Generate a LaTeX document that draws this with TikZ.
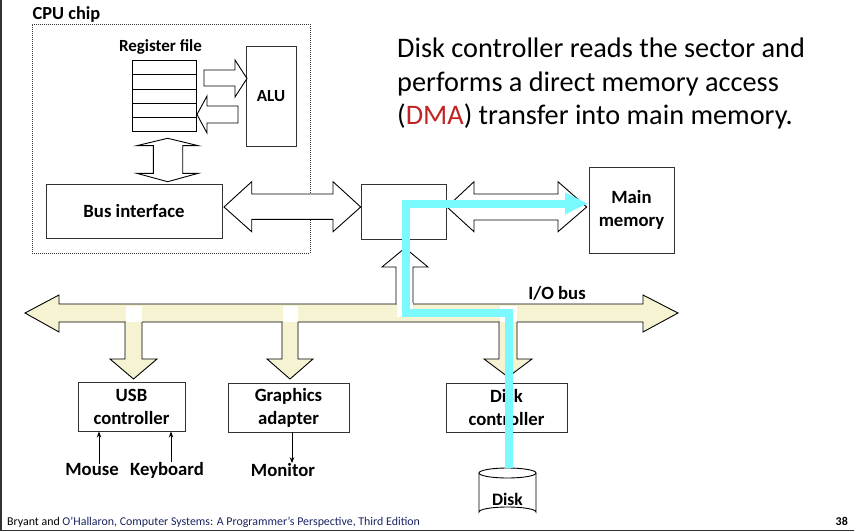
\documentclass[tikz,border=0pt]{standalone}
\usepackage{fontspec}
\setmainfont{Carlito}
\usetikzlibrary{arrows.meta}
\definecolor{cream}{RGB}{246,243,211}
\definecolor{cyanp}{RGB}{122,250,255}
\definecolor{dmared}{RGB}{192,36,36}
\definecolor{navyt}{RGB}{25,35,95}
\definecolor{edge}{RGB}{50,50,50}
\begin{document}
\begin{tikzpicture}[x=1pt,y=-1pt,
  box/.style={draw=edge, line width=0.9pt, inner sep=0pt, align=center,
    font=\bfseries\fontsize{18.7}{23}\selectfont},
  lbl/.style={inner sep=0pt, font=\bfseries\fontsize{18.7}{23}\selectfont},
  blk/.style={draw=black, line width=0.9pt, line join=miter, fill=white},
  bus/.style={draw=black, line width=0.9pt, line join=miter, fill=cream},
  thin/.style={draw=black, line width=0.9pt, -{Stealth[length=6pt,width=4.5pt]}},
  cyanline/.style={draw=cyanp, line width=8pt},
  title/.style={inner sep=0pt, anchor=base west, font=\fontsize{28.3}{33}\selectfont}]
\useasboundingbox (0,0) rectangle (854,532);
% slide frame
\draw[edge, line width=1.5pt] (0.8,0) -- (0.8,530.5) -- (854,530.5);

% CPU chip
\node[draw=edge, line width=0.8pt, dash pattern=on 1pt off 1pt, minimum width=278pt, minimum height=229pt, inner sep=0pt] (cpu) at (171,138.5) {};
\node[lbl, anchor=base west, font=\bfseries\fontsize{18.4}{22}\selectfont] (cpulbl) at (32.5,19.5) {CPU chip};
\node[lbl, font=\bfseries\fontsize{17}{22}\selectfont] (reglbl) at (160.5,47) {Register file};
\foreach \i in {0,...,4}{
  \node[draw=black, line width=0.9pt, minimum width=64pt, minimum height=14.2pt, inner sep=0pt] (reg\i) at (164,67.8+14.2*\i) {};
}
\node[box, minimum width=50pt, minimum height=100pt, font=\bfseries\fontsize{17}{22}\selectfont] (alu) at (271,96) {ALU};
% reg -> ALU
\draw[blk] (204,70) -- (235,70) -- (235,60) -- (247,78.5) -- (235,97) -- (235,86) -- (204,86) -- cycle;
% ALU -> reg
\draw[blk] (238,106) -- (207,106) -- (207,96) -- (197,114.5) -- (207,133) -- (207,123) -- (238,123) -- cycle;
% reg <-> bus interface
\draw[blk] (167.7,138.3) -- (198.3,145.7) -- (182.7,145.7) -- (182.7,173.3) -- (198.3,173.3) -- (167.7,181.7)
  -- (136.7,173.3) -- (153.3,173.3) -- (153.3,145.7) -- (136.7,145.7) -- cycle;
\node[box, minimum width=176pt, minimum height=54pt] (busif) at (134,211) {Bus interface};

% bridge and memory
\node[box, minimum width=85pt, minimum height=55pt] (bridge) at (403.5,211.5) {};
\node[box, minimum width=85pt, minimum height=86pt] (mem) at (631.5,210) {Main\\memory};
% bus interface <-> bridge
\draw[blk] (224,207) -- (251.7,181.7) -- (251.7,194) -- (333,194) -- (333,181.7) -- (360.7,207)
  -- (333,231.7) -- (333,219.3) -- (251.7,219.3) -- (251.7,231.7) -- cycle;
% bridge <-> memory
\draw[blk] (447,207) -- (474,181.7) -- (474,194) -- (558,194) -- (558,181.7) -- (586.7,207)
  -- (558,231.7) -- (558,220) -- (474,220) -- (474,231.7) -- cycle;

% I/O bus
\draw[bus] (25,313) -- (59,295) -- (59,304) -- (643,304) -- (643,295) -- (678,313) -- (643,332)
  -- (643,322) -- (59,322) -- (59,332) -- cycle;
\node[lbl] (iolbl) at (557,293) {I/O bus};

% up arrow bus -> bridge
\draw[blk] (396,304) -- (396,267) -- (382,267) -- (405,248) -- (428,267) -- (413,267) -- (413,304);
\fill[white] (396.5,303) rectangle (412.5,317);

% down arrows
\fill[cream] (125,322) -- (125,359) -- (110,359) -- (133.5,379) -- (157,359) -- (142,359) -- (142,322) -- cycle;
\draw[black, line width=0.9pt, line join=miter] (125,322) -- (125,359) -- (110,359) -- (133.5,379) -- (157,359) -- (142,359) -- (142,322);
\fill[white] (125.5,306) rectangle (141.5,321.5);

\fill[cream] (282,322) -- (282,359) -- (267,359) -- (290,379) -- (313,359) -- (298,359) -- (298,322) -- cycle;
\draw[black, line width=0.9pt, line join=miter] (282,322) -- (282,359) -- (267,359) -- (290,379) -- (313,359) -- (298,359) -- (298,322);
\fill[white] (282.5,306) rectangle (297.5,321.5);

\fill[cream] (499,322) -- (499,359) -- (484,359) -- (508,377) -- (532,359) -- (517,359) -- (517,322) -- cycle;
\draw[black, line width=0.9pt, line join=miter] (499,322) -- (499,359) -- (484,359) -- (508,377) -- (532,359) -- (517,359) -- (517,322);
\fill[white] (499.5,306) rectangle (516.5,321.5);

% controllers
\node[box, minimum width=107pt, minimum height=49pt] (usb) at (131.5,406.5) {USB\\controller};
\node[box, minimum width=121pt, minimum height=49pt] (gfx) at (288.5,407.5) {Graphics\\adapter};
\node[box, minimum width=121pt, minimum height=49pt] (dctl) at (506.5,407.5) {Disk\\controller};

\node[lbl] (mouse) at (92,470) {Mouse};
\node[lbl] (kbd) at (167,470) {Keyboard};
\node[lbl] (mon) at (283,470) {Monitor};
\draw[thin] ([xshift=7pt]mouse.north) -- ([xshift=7pt]mouse.north |- usb.south);
\draw[thin] ([xshift=4pt]kbd.north) -- ([xshift=4pt]kbd.north |- usb.south);
\draw[thin] ([xshift=3.5pt]gfx.south) -- ([xshift=3.5pt]gfx.south |- mon.north);

% disk
\draw[black, line width=0.9pt, fill=white] (479,473) -- (479,512) arc[start angle=180, end angle=360, x radius=28.5, y radius=5] -- (536,473);
\draw[black, line width=0.9pt, fill=white] (507.5,473) ellipse[x radius=28.5, y radius=5];
\node[lbl, font=\bfseries\fontsize{17.5}{22}\selectfont] (disk) at (507.5,499) {Disk};
\coordinate (disktop) at (508.5,468);
\coordinate (memin) at (587,203.5);

% DMA path
\draw[cyanline, line join=miter] (disktop) -- (508.5,313) -- (406,313) -- (406,203.5) -- ([xshift=-20pt]memin);
\fill[cyanp] (memin) -- ++(-22,-11) -- ++(0,22) -- cycle;

% title
\node[title] (t1) at (397,58) {Disk controller reads the sector and};
\node[title] (t2) at (397,91.7) {performs a direct memory access};
\node[title] (t3) at (397,124.5) {(\textcolor{dmared}{DMA}) transfer into main memory.};

% footer
\node[inner sep=0pt, anchor=base west, font=\fontsize{11.9}{14}\selectfont] (foot) at (7,525) {Bryant and \textcolor{navyt}{O’Hallaron, Computer Systems: A Programmer’s Perspective, Third Edition}};
\node[inner sep=0pt, anchor=base east, font=\bfseries\fontsize{11.9}{14}\selectfont] (pg) at (848,525) {38};
\end{tikzpicture}
\end{document}
